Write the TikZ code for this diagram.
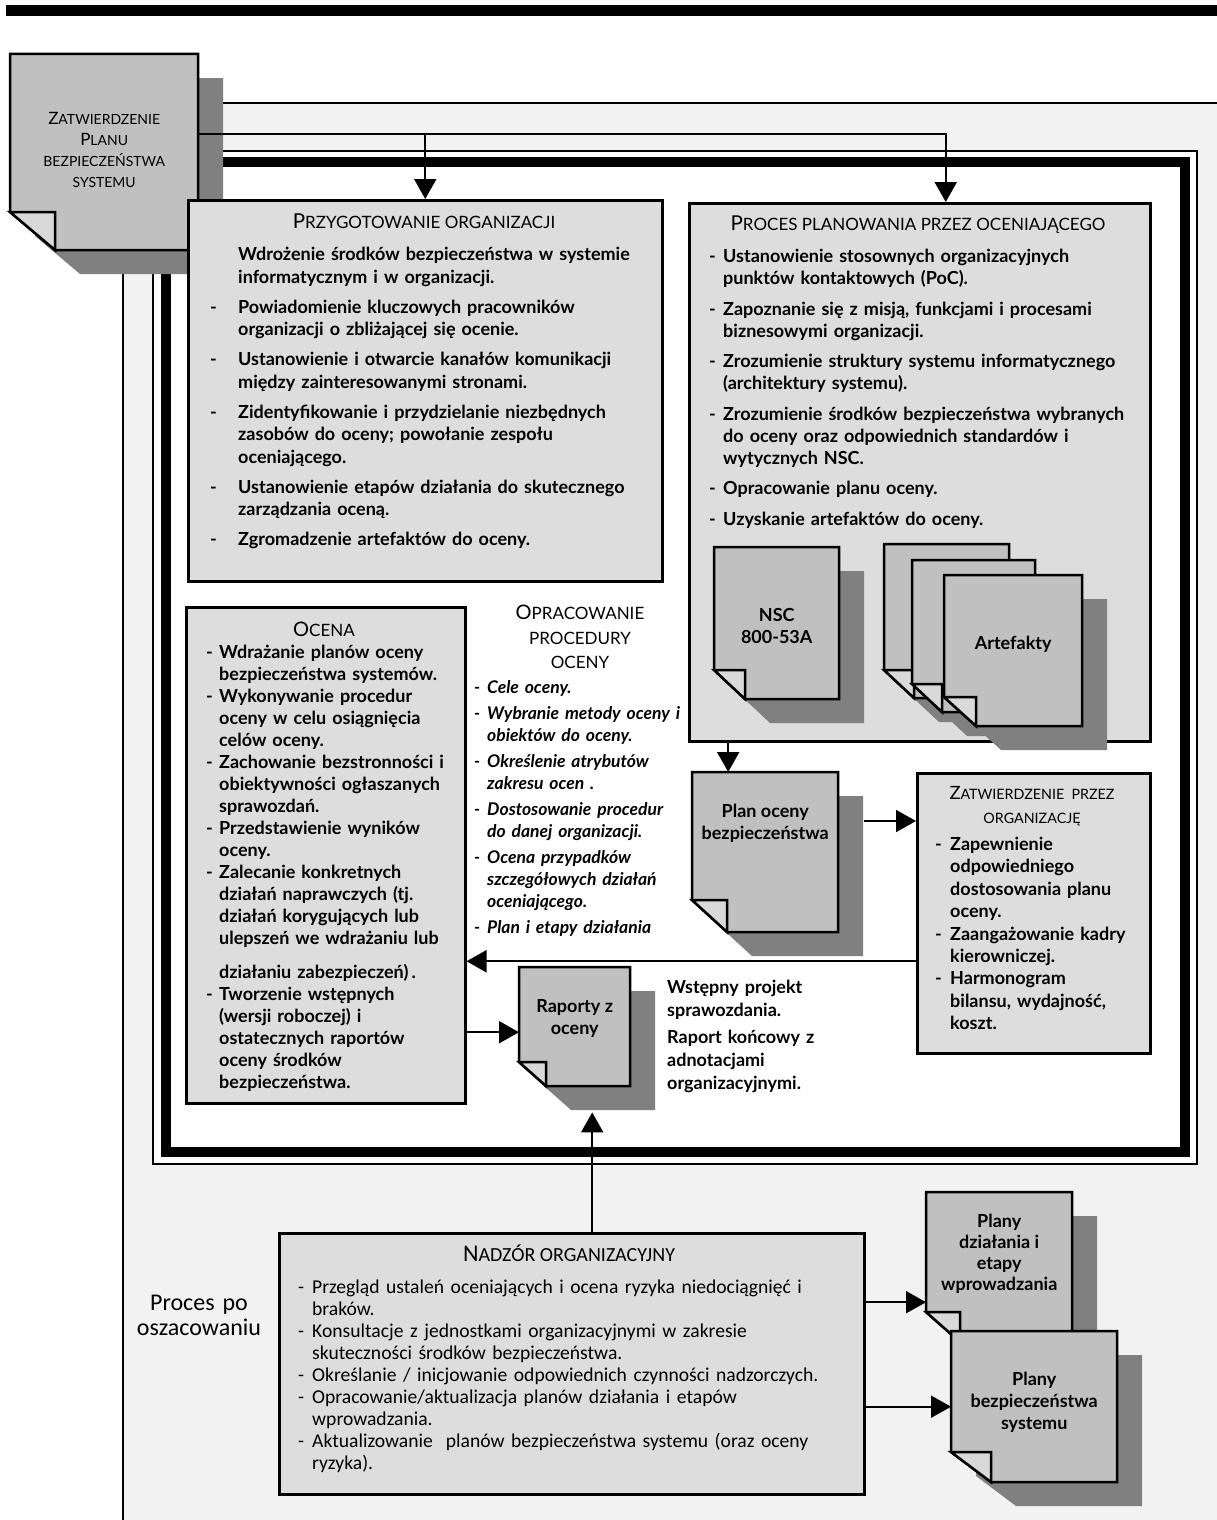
\documentclass[tikz,border=0pt]{standalone}
\usepackage{fontspec}
\setmainfont{Lato}
\newfontfamily\condfont{Carlito}
\usetikzlibrary{arrows.meta,positioning}

\definecolor{paperbg}{HTML}{F2F2F2}
\definecolor{boxfill}{HTML}{DDDDDD}
\definecolor{pagefill}{HTML}{C0C0C0}
\definecolor{foldfill}{HTML}{D9D9D9}
\definecolor{shadowgray}{HTML}{808080}

\newcommand\bigini[2]{{\fontsize{#1}{#1}\selectfont #2}}
\newcommand\dashitem[3][-]{\ifvmode\noindent\fi\hangindent=#2\hangafter=1\makebox[#2][l]{#1}#3\par}
% name, x, y, width, height, fold width, fold height
\newcommand\paperdoc[7]{%
	\begin{scope}[shift={(#2,#3)}]
		\fill[docshadow] (25,24) -- (#4+25,24) -- (#4+25,#5+24) -- (#6+25,#5+24) -- (25,#5-#7+24) -- cycle;
		\draw[docpage] (0,0) -- (#4,0) -- (#4,#5) -- (#6,#5) -- (0,#5-#7) -- cycle;
		\draw[docfold] (0,#5-#7) -- (#6,#5-#7) -- (#6,#5) -- cycle;
		\node[docanchor,minimum width=#4pt,minimum height=#5pt] (#1) at (0,0) {};
	\end{scope}}

\begin{document}
\begin{tikzpicture}[x=1pt,y=-1pt,
					conn/.style={line width=2pt,-{Triangle[length=20pt,width=22pt]}},
					procbox/.style={draw,line width=2.5pt,fill=boxfill,inner sep=0,anchor=north west},
					boxtitle/.style={inner sep=0,anchor=mid,yshift=-4pt,font=\fontsize{17}{20}\selectfont},
					items/.style={inner sep=0,anchor=mid west,yshift=-4pt,align=left,font=\bfseries\fontsize{18}{22}\selectfont},
					docpage/.style={draw,line width=2.5pt,fill=pagefill},
					docfold/.style={draw,line width=2.5pt,fill=foldfill},
					docshadow/.style={fill=shadowgray},
					docanchor/.style={inner sep=0,anchor=north west},
					doctext/.style={inner sep=0,align=center,font=\bfseries\fontsize{18}{22}\selectfont}]
	\useasboundingbox (0,0) rectangle (1217,1520);
	\fill (6,5) rectangle (1217,16);
	\fill[paperbg] (123,103) rectangle (1217,1520);
	\draw[line width=2pt] (1217,103) -- (123,103) -- (123,1520);
	\draw[line width=2pt,fill=white] (153,151) rectangle (1197,1164);
	\draw[line width=10pt] (166,162) rectangle (1185,1152);

	\paperdoc{zatwdoc}{10}{54}{188}{196}{45}{38}
	\node[inner sep=0,align=center,font=\fontsize{14}{21}\selectfont] (zatwdoctext) at ([yshift=2pt]zatwdoc.center)
		{\bigini{17}{Z}ATWIERDZENIE\\\bigini{17}{P}LANU\\BEZPIECZEŃSTWA\\SYSTEMU};

	% przygotowanie
	\node[procbox,minimum width=474pt,minimum height=381pt] (przyg) at (187,199) {};
	\node[boxtitle] (przygtitle) at (424,222) {\bigini{20.5}{P}RZYGOTOWANIE ORGANIZACJI};
	\node[items,text width=445pt,font=\bfseries\fontsize{18}{22.5}\selectfont] (przygitems) at (210,254) {%
		\setlength\parskip{7.5pt}%
		\dashitem[]{28pt}{Wdrożenie środków bezpieczeństwa w systemie\newline informatycznym i w organizacji.}
		\dashitem{28pt}{Powiadomienie kluczowych pracowników\newline organizacji o zbliżającej się ocenie.}
		\dashitem{28pt}{Ustanowienie i otwarcie kanałów komunikacji\newline między zainteresowanymi stronami.}
		\dashitem{28pt}{Zidentyfikowanie i przydzielanie niezbędnych\newline zasobów do oceny; powołanie zespołu\newline oceniającego.}
		\dashitem{28pt}{Ustanowienie etapów działania do skutecznego\newline zarządzania oceną.}
		\dashitem{28pt}{Zgromadzenie artefaktów do oceny.}};

	% planowanie
	\node[procbox,minimum width=461pt,minimum height=538pt] (proces) at (688,202) {};
	\node[boxtitle] (procestitle) at (918,224) {\bigini{20.5}{P}ROCES PLANOWANIA PRZEZ OCENIAJĄCEGO};
	\node[items,text width=435pt] (procesitems) at (709,256) {%
		\setlength\parskip{8.5pt}%
		\dashitem{14pt}{Ustanowienie stosownych organizacyjnych\newline punktów kontaktowych (PoC).}
		\dashitem{14pt}{Zapoznanie się z misją, funkcjami i procesami\newline biznesowymi organizacji.}
		\dashitem{14pt}{Zrozumienie struktury systemu informatycznego\newline (architektury systemu).}
		\dashitem{14pt}{Zrozumienie środków bezpieczeństwa wybranych\newline do oceny oraz odpowiednich standardów i\newline wytycznych NSC.}
		\dashitem{14pt}{Opracowanie planu oceny.}
		\dashitem{14pt}{Uzyskanie artefaktów do oceny.}};
	\paperdoc{nsc}{714}{547}{125}{152}{31}{29}
	\node[doctext] (nsctext) at ([yshift=-3pt]nsc.center) {NSC\\800-53A};
	\paperdoc{art1}{884}{544}{125}{154}{30}{28}
	\paperdoc{art2}{912}{560}{123}{152}{30}{28}
	\paperdoc{art3}{944}{575}{138}{151}{32}{29}
	\node[doctext] (art3text) at ([yshift=6pt]art3.center) {Artefakty};

	% ocena
	\node[procbox,minimum width=279pt,minimum height=496pt] (ocena) at (185,606) {};
	\node[boxtitle] (ocenatitle) at (324,630) {\bigini{20}{O}CENA};
	\node[items,text width=255pt] (ocenaitems) at (206,652) {%
		\dashitem{13pt}{Wdrażanie planów oceny\newline bezpieczeństwa systemów.}
		\dashitem{13pt}{Wykonywanie procedur\newline oceny w celu osiągnięcia\newline celów oceny.}
		\dashitem{13pt}{Zachowanie bezstronności i\newline obiektywności ogłaszanych\newline sprawozdań.}
		\dashitem{13pt}{Przedstawienie wyników\newline oceny.}
		\dashitem{13pt}{Zalecanie konkretnych\newline działań naprawczych (tj.\newline działań korygujących lub\newline ulepszeń we wdrażaniu lub\vspace{12pt}\newline działaniu zabezpieczeń)\,.}
		\dashitem{13pt}{Tworzenie wstępnych\newline (wersji roboczej) i\newline ostatecznych raportów\newline oceny środków\newline bezpieczeństwa.}};

	% procedura
	\node[boxtitle,text width=200pt,align=center,font=\fontsize{17}{24.5}\selectfont] (proctitle) at (580,613)
		{\bigini{20}{O}PRACOWANIE\\PROCEDURY\\OCENY};
	\node[items,text width=215pt,font=\bfseries\itshape\fontsize{17.5}{22}\selectfont] (procitems) at (474,687) {%
		\setlength\parskip{4pt}%
		\dashitem{13pt}{Cele oceny.}
		\dashitem{13pt}{Wybranie metody oceny i\newline obiektów do oceny.}
		\dashitem{13pt}{Określenie atrybutów\newline zakresu ocen .}
		\dashitem{13pt}{Dostosowanie procedur\newline do danej organizacji.}
		\dashitem{13pt}{Ocena przypadków\newline szczegółowych działań\newline oceniającego.}
		\dashitem{13pt}{Plan i etapy działania}};

	\paperdoc{plan}{692}{772}{146}{160}{35}{32}
	\node[doctext] (plantext) at ([yshift=-51pt]plan.north) {Plan oceny\\bezpieczeństwa};

	% zatwierdzenie
	\node[procbox,minimum width=233pt,minimum height=280pt] (zatw) at (916,772) {};
	\node[boxtitle,text width=225pt,align=center,font=\fontsize{14.3}{24}\selectfont] (zatwtitle) at (1032,793)
		{\bigini{18.3}{Z}ATWIERDZENIE\enspace PRZEZ\\ORGANIZACJĘ};
	\node[items,text width=212pt,font=\bfseries\fontsize{18}{22.4}\selectfont] (zatwitems) at (935,844) {%
		\dashitem{15pt}{Zapewnienie\newline odpowiedniego\newline dostosowania planu\newline oceny.}
		\dashitem{15pt}{Zaangażowanie kadry\newline kierowniczej.}
		\dashitem{15pt}{Harmonogram\newline bilansu, wydajność,\newline koszt.}};

	\paperdoc{raporty}{519}{967}{111}{119}{27}{24}
	\node[doctext] (raportytext) at ([yshift=-51pt]raporty.north) {Raporty z\\oceny};
	\node[items,text width=210pt,font=\bfseries\fontsize{18}{23}\selectfont] (raportynote) at (667,987) {%
		\setlength\parskip{4pt}%
		Wstępny projekt\newline sprawozdania.\par
		Raport końcowy z\newline adnotacjami\newline organizacyjnymi.\par};

	% nadzor
	\node[procbox,minimum width=585pt,minimum height=261pt] (nadzor) at (278,1232) {};
	\node[boxtitle,font=\condfont\fontsize{20}{22}\selectfont] (nadzortitle) at (569,1255) {\bigini{24}{N}ADZÓR ORGANIZACYJNY};
	\node[items,text width=565pt,font=\condfont\fontsize{19.6}{22}\selectfont] (nadzoritems) at (298,1287) {%
		\dashitem{14pt}{Przegląd ustaleń oceniających i ocena ryzyka niedociągnięć i\newline braków.}
		\dashitem{14pt}{Konsultacje z jednostkami organizacyjnymi w zakresie\newline skuteczności środków bezpieczeństwa.}
		\dashitem{14pt}{Określanie / inicjowanie odpowiednich czynności nadzorczych.}
		\dashitem{14pt}{Opracowanie/aktualizacja planów działania i etapów\newline wprowadzania.}
		\dashitem{14pt}{Aktualizowanie\ \ planów bezpieczeństwa systemu (oraz oceny\newline ryzyka).}};
	\node[inner sep=0,anchor=mid,yshift=-5pt,text width=150pt,align=center,font=\condfont\fontsize{24}{25}\selectfont] (postlabel) at (199,1303)
		{Proces po\\oszacowaniu};

	\paperdoc{dzial}{926}{1192}{146}{150}{34}{30}
	\node[doctext,font=\bfseries\fontsize{18}{21}\selectfont] (dzialtext) at ([yshift=-62pt]dzial.north) {Plany\\działania i\\etapy\\wprowadzania};
	\paperdoc{bezp}{951}{1331}{166}{151}{40}{30}
	\node[doctext] (bezptext) at ([yshift=-71pt]bezp.north) {Plany\\bezpieczeństwa\\systemu};

	% connectors
	\draw[conn] ([yshift=18pt]zatwdoc.east) -| (przyg.north);
	\draw[conn] ([yshift=18pt]zatwdoc.east) -| ([xshift=26pt]proces.north);
	\draw[conn] ([xshift=-37pt]plan.north |- proces.south) -- ([xshift=-37pt]plan.north);
	\coordinate (pz) at ([xshift=26pt,yshift=-49pt]plan.north east);
	\draw[conn] (pz) -- (pz -| zatw.west);
	\coordinate (zo) at ([yshift=-48pt]zatw.west);
	\draw[conn] (zo) -- (zo -| ocena.east);
	\coordinate (ro) at ([yshift=-5.5pt]raporty.west);
	\draw[conn] (ro -| ocena.east) -- (ro);
	\draw[conn] ([xshift=17.5pt]raporty.south |- nadzor.north) -- ([xshift=17.5pt,yshift=-26pt]raporty.south);
	\coordinate (nd) at ([yshift=-35pt]dzial.west);
	\draw[conn] (nd -| nadzor.east) -- (nd);
	\draw[conn] (bezp.west -| nadzor.east) -- (bezp.west);
\end{tikzpicture}
\end{document}
